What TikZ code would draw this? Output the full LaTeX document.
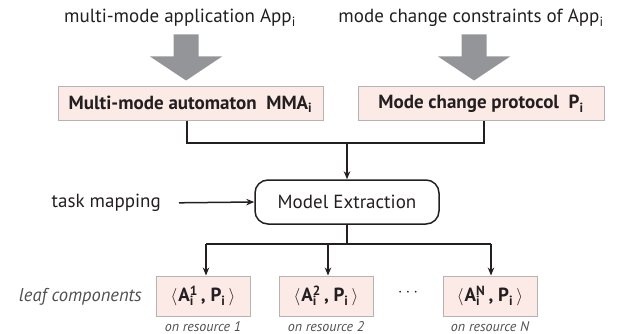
\documentclass[tikz,border=0pt]{standalone}
\usepackage{fontspec}
\setmainfont{PT Sans}
\usetikzlibrary{arrows.meta}

\definecolor{boxfill}{RGB}{252,234,230}
\definecolor{boxline}{RGB}{180,180,180}
\definecolor{bigarrow}{RGB}{147,149,152}
\definecolor{ink}{RGB}{35,31,32}
\definecolor{soft}{RGB}{80,80,80}

% stacked superscript/subscript pair, as wide as the wider of the two
\newcommand\supsub[2]{{\setbox0=\hbox{\textsuperscript{#1}}\setbox2=\hbox{\textsubscript{#2}}%
  \dimen0=\ifdim\wd0>\wd2 \wd0\else\wd2\fi
  \rlap{\box0}\rlap{\box2}\hskip\dimen0}}

% wide grey arrow pointing down, tip at #1
\newcommand\bigdownarrow[1]{\fill[bigarrow] (#1) -- ++(-36,-24) -- ++(23.5,0) -- ++(0,-22)
  -- ++(25,0) -- ++(0,22) -- ++(23.5,0) -- cycle;}

% leaf component pair <A_i^k, P_i>
\newcommand\leafpair[1]{$\langle$\kern1pt A\supsub{#1}{i}\,, P\textsubscript{i}\,$\rangle$}

\begin{document}
\begin{tikzpicture}[x=1pt,y=-1pt,
  txt/.style={inner sep=0pt, text=ink, font=\fontsize{19}{22}\selectfont},
  pinkbox/.style={draw=boxline, fill=boxfill, line width=1pt, inner sep=0pt,
    text=ink, font=\bfseries\fontsize{19}{22}\selectfont},
  leafbox/.style={pinkbox, minimum width=94pt, minimum height=40pt},
  procbox/.style={draw=ink, line width=1.5pt, rounded corners=13pt, inner sep=0pt,
    minimum width=184pt, minimum height=44pt, text=ink, font=\fontsize{19}{22}\selectfont},
  note/.style={inner sep=0pt, text=soft, font=\itshape\fontsize{14}{16}\selectfont},
  wire/.style={draw=ink, line width=1.5pt},
  tip/.style={-{Stealth[length=8pt,width=6.5pt]}}]

\useasboundingbox (0,0) rectangle (629,334);

% inputs
\node[txt, anchor=base] (app) at (180,23) {multi-mode application App\textsubscript{i}};
\node[txt, anchor=base] (mcc) at (471,23) {mode change constraints of App\textsubscript{i}};

% models
\node[pinkbox, minimum width=265pt, minimum height=34pt] (mma) at (190.5,104)
  {Multi-mode automaton\ \ MMA\textsubscript{i}};
\node[pinkbox, minimum width=246pt, minimum height=34pt] (prot) at (481,104)
  {Mode change protocol\ \ P\textsubscript{i}};

\coordinate (t1) at ([xshift=-4.5pt,yshift=6pt]mma.north);
\coordinate (t2) at ([xshift=-7pt,yshift=6pt]prot.north);
\bigdownarrow{t1}
\bigdownarrow{t2}

% extraction step
\node[procbox] (mex) at (347,202) {Model Extraction};
\node[txt, anchor=east] (tm) at (161,203) {task mapping};
\draw[wire, tip, shorten <=18pt] (tm.east) -- (mex.west);

\coordinate (jl) at (187,143);
\coordinate (jr) at (484,143);
\draw[wire] (mma.south -| jl) -- (jl) -- (jr) -- (prot.south -| jr);
\draw[wire, tip] (jl -| mex.north) -- (mex.north);

% leaf components
\node[leafbox] (l1) at (203,296) {\leafpair{1}};
\node[leafbox] (l2) at (326,296) {\leafpair{2}};
\node[leafbox] (lN) at (490,296) {\leafpair{N}};
\node[txt] (dots) at (408,293) {$\cdots$};
\node[note, anchor=east, font=\itshape\fontsize{18.5}{22}\selectfont] (lc) at (142,297) {leaf components};

\node[note, anchor=base] (r1) at (l1.south |- 0,331) {on resource 1};
\node[note, anchor=base] (r2) at (l2.south |- 0,331) {on resource 2};
\node[note, anchor=base] (rN) at (lN.south |- 0,331) {on resource N};

\coordinate (jb) at (mex.south |- 0,244);
\draw[wire] (mex.south) -- (jb);
\draw[wire] ([xshift=3pt]l1.north |- jb) -- ([xshift=1pt]lN.north |- jb);
\draw[wire, tip] ([xshift=3pt]l1.north |- jb) -- ([xshift=3pt]l1.north);
\draw[wire, tip] ([xshift=2pt]l2.north |- jb) -- ([xshift=2pt]l2.north);
\draw[wire, tip] ([xshift=1pt]lN.north |- jb) -- ([xshift=1pt]lN.north);
\end{tikzpicture}
\end{document}
